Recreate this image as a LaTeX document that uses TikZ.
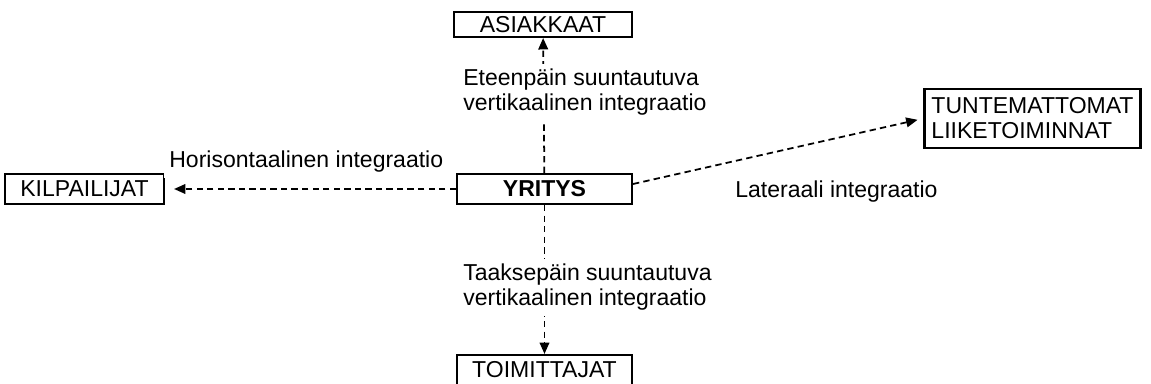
\documentclass[tikz,border=0pt]{standalone}
\usepackage{fontspec}
\setmainfont{Liberation Sans}
\usepackage{tikz}
\usetikzlibrary{arrows.meta,positioning,calc}

\begin{document}
\begin{tikzpicture}[
		font=\fontsize{13.1pt}{14.2pt}\selectfont,
		box/.style={draw, line width=1.2pt, inner sep=0pt, minimum height=0.6cm},
		lbl/.style={fill=white, inner sep=0.1cm, align=left, anchor=west},
		link/.style={dashed, dash pattern=on 3.6pt off 2.4pt, line width=1pt, -{Triangle[length=6.5pt,width=5.5pt]}}
	]
		\useasboundingbox (0,0) rectangle (23.02,7.68);

		\node[box, minimum width=3.5cm] (yritys) at (10.89,3.90) {\textbf{YRITYS}};
		\node[box, minimum width=3.56cm, minimum height=0.5cm] (asiakkaat) at (10.86,7.19) {ASIAKKAAT};
		\node[box, minimum width=3.18cm] (kilpailijat) at (1.69,3.90) {KILPAILIJAT};
		\node[box, minimum width=3.5cm] (toimittajat) at (10.89,0.28) {TOIMITTAJAT};
		\node[box, minimum width=4.3cm, minimum height=1.18cm, align=left, inner xsep=0.14cm] (tuntemattomat) at (20.65,5.31) {TUNTEMATTOMAT\\LIIKETOIMINNAT};

		\draw[link] (yritys) -- (asiakkaat);
		\draw[link] (yritys) -- (toimittajat);
		\draw[link, shorten >=0.18cm] (yritys) -- (kilpailijat);
		\draw[link, shorten >=0.12cm] ([yshift=0.1cm]yritys.east) -- (tuntemattomat.west);

		\node[lbl] (eteen) at (9.16,5.83) {Eteenpäin suuntautuva\\vertikaalinen integraatio};
		\node[lbl] (taakse) at (9.16,1.93) {Taaksepäin suuntautuva\\vertikaalinen integraatio};
		\node[lbl] (horis) at (3.28,4.44) {Horisontaalinen integraatio};
		\node[lbl] (later) at (14.60,3.85) {Lateraali integraatio};
	\end{tikzpicture}
\end{document}
